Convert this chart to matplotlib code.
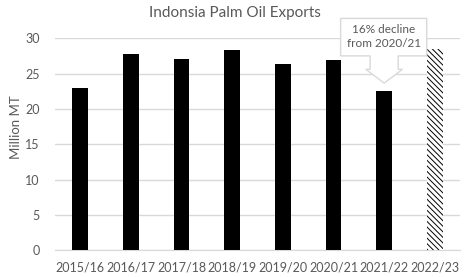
import matplotlib.pyplot as plt
from matplotlib.patches import Polygon

# data
years = ['2015/16', '2016/17', '2017/18', '2018/19', '2019/20', '2020/21', '2021/22', '2022/23']
exports = [22.9, 27.7, 27.0, 28.3, 26.3, 26.9, 22.6, 28.5]
forecast = [False, False, False, False, False, False, False, True]

plt.rcParams['font.family'] = ['Lato', 'DejaVu Sans']
plt.rcParams['hatch.linewidth'] = 0.7
grey = '#595959'
light = '#d9d9d9'

fig = plt.figure(figsize=(4.7, 2.77), dpi=100)
ax = fig.add_axes([0.117, 0.0964, 0.862, 0.7657])

x = list(range(len(years)))
for i in x:
    if forecast[i]:
        ax.bar(i, exports[i], width=0.31, color='white', edgecolor='black',
               hatch='\\\\\\\\\\\\', linewidth=0, zorder=3)
    else:
        ax.bar(i, exports[i], width=0.31, color='black', zorder=3)

ax.set_xlim(-0.5, len(years) - 0.5)
ax.set_ylim(0, 30)
ax.set_yticks(range(0, 31, 5))
ax.set_xticks(x)
ax.set_xticklabels(years)
ax.tick_params(length=0, colors=grey, labelsize=9)
ax.tick_params(axis='y', pad=11)
ax.tick_params(axis='x', pad=8)
ax.grid(axis='y', color=light, linewidth=1, zorder=0)
ax.set_axisbelow(True)
for s in ['top', 'right', 'left']:
    ax.spines[s].set_visible(False)
ax.spines['bottom'].set_color(light)
ax.set_ylabel('Million MT', color=grey, fontsize=9.5)
ax.yaxis.set_label_coords(-0.082, 0.58)

fig.text(0.5, 0.953, 'Indonsia Palm Oil Exports', ha='center', va='center',
         color=grey, fontsize=11)

# callout above 2021/22
bi = 6
tip = exports[bi] + 1.05
pts = [(bi - 0.86, tip + 9.15), (bi + 0.84, tip + 9.15), (bi + 0.84, tip + 3.85),
       (bi + 0.277, tip + 3.85), (bi + 0.277, tip + 1.95), (bi + 0.362, tip + 1.95),
       (bi, tip), (bi - 0.362, tip + 1.95), (bi - 0.277, tip + 1.95),
       (bi - 0.277, tip + 3.85), (bi - 0.86, tip + 3.85)]
ax.add_patch(Polygon(pts, closed=True, facecolor='white', edgecolor=light,
                     linewidth=1, zorder=4, clip_on=False))
ax.text(bi - 0.01, tip + 6.6, '16% decline\nfrom 2020/21', ha='center', va='center',
        color=grey, fontsize=8.5, linespacing=1.35, zorder=5)

fig.savefig('out.png', dpi=100)
